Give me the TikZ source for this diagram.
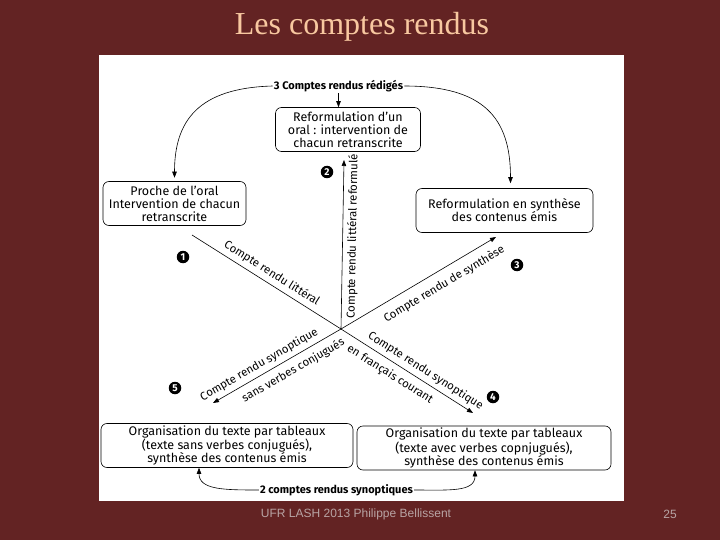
\documentclass[tikz,border=0pt]{standalone}
\usepackage{fontspec}
\setmainfont{Liberation Serif}
\newfontfamily\diagfont{Fira Sans}
\newfontfamily\footfont{Liberation Sans}
\usetikzlibrary{arrows.meta,calc}
\definecolor{slideRed}{HTML}{632323}
\definecolor{titlePeach}{HTML}{F8C8A0}
\definecolor{footGrey}{HTML}{B8A4A4}

\begin{document}
\begin{tikzpicture}[x=1pt,y=-1pt,
    font=\diagfont\fontsize{11.4}{13}\selectfont,
    box/.style={draw,rounded corners=6pt,line width=0.6pt,align=center,minimum height=44pt,inner sep=1pt,
      font=\diagfont\fontsize{12.5}{12.9}\selectfont},
    arr/.style={line width=0.6pt,-{Triangle[length=6pt,width=4.5pt]}},
    num/.style={circle,fill=black,text=white,inner sep=0pt,minimum size=12.5pt,font=\diagfont\bfseries\fontsize{10}{10}\selectfont},
    lbl/.style={sloped,inner sep=2pt},
    bold/.style={font=\diagfont\bfseries\fontsize{11}{12}\selectfont,inner sep=1pt}]
  \fill[slideRed] (0,0) rectangle (720,540);
  \useasboundingbox (0,0) rectangle (720,540);
  \fill[white] (99,55) rectangle (624,501);

  \node[anchor=base,font=\fontsize{32}{32}\selectfont,text=titlePeach] (title) at (362,35) {Les comptes rendus};

  % boxes
  \node[box,minimum width=145pt] (tbox) at (348,129.5) {Reformulation d’un\\oral : intervention de\\chacun retranscrite};
  \node[box,minimum width=143pt] (lbox) at (174.5,203.5) {Proche de l’oral\\Intervention de chacun\\retranscrite};
  \node[box,minimum width=177pt] (rbox) at (504.5,210.5) {Reformulation en synthèse\\des contenus émis};
  \node[box,minimum width=252pt] (blbox) at (227,445.5) {Organisation du texte par tableaux\\(texte sans verbes conjugués),\\synthèse des contenus émis};
  \node[box,minimum width=254pt] (brbox) at (484,448) {Organisation du texte par tableaux\\(texte avec verbes copnjugués),\\synthèse des contenus émis};
  \node[bold] (rediges) at (338.5,86) {3 Comptes rendus rédigés};
  \node[bold] (synopt) at (336.5,490) {2 comptes rendus synoptiques};

  \draw[arr] (rediges.south) -- (rediges.south |- tbox.north);
  \draw[arr,shorten >=3.5pt] (rediges.west) .. controls +(-75,2) and +(0,-60) .. (lbox.north);
  \draw[arr,shorten >=5pt] (rediges.east) .. controls +(80,0) and +(0,-70) .. ([xshift=6pt]rbox.north);
  \draw[arr] (synopt.west) .. controls +(-35,0) and +(0,22) .. ([xshift=-28pt]blbox.south);
  \draw[arr] (synopt.east) .. controls +(35,0) and +(0,22) .. ([xshift=-9pt]brbox.south);

  % the five kinds of report
  \coordinate (ctr) at (341,329);
  \coordinate (litt) at (192,235);
  \coordinate (reform) at (344,160);
  \coordinate (synth) at (496,237);
  \coordinate (synsans) at (213,403);
  \coordinate (synfr) at (473,413);
  \draw[line width=0.6pt] (litt) -- (ctr) node[lbl,above=2pt,pos=0.5] {Compte rendu littéral};
  \draw[arr] (ctr) -- (reform) node[lbl,below=2pt,pos=0.55] {Compte rendu littéral reformulé};
  \draw[arr] (ctr) -- (synth) node[lbl,below=6pt,pos=0.62] {Compte rendu de synthèse};
  \draw[arr] (ctr) -- (synfr) node[lbl,above=2pt,pos=0.6] {Compte rendu synoptique}
    node[lbl,below=4pt,pos=0.42] {en français courant};
  \draw[arr] (ctr) -- (synsans) node[lbl,above=2pt,pos=0.6] {Compte rendu synoptique}
    node[lbl,below=4pt,pos=0.42] {sans verbes conjugués};

  \node[num] (n1) at (183,257) {1};
  \node[num] (n2) at (327,172) {2};
  \node[num] (n3) at (517,265) {3};
  \node[num] (n4) at (493,397) {4};
  \node[num] (n5) at (175,388) {5};

  \node[font=\footfont\fontsize{12}{12}\selectfont,text=footGrey] (foot) at (356,514) {UFR LASH 2013 Philippe Bellissent};
  \node[font=\footfont\fontsize{12}{12}\selectfont,text=footGrey] (page) at (670,514) {25};
\end{tikzpicture}
\end{document}
